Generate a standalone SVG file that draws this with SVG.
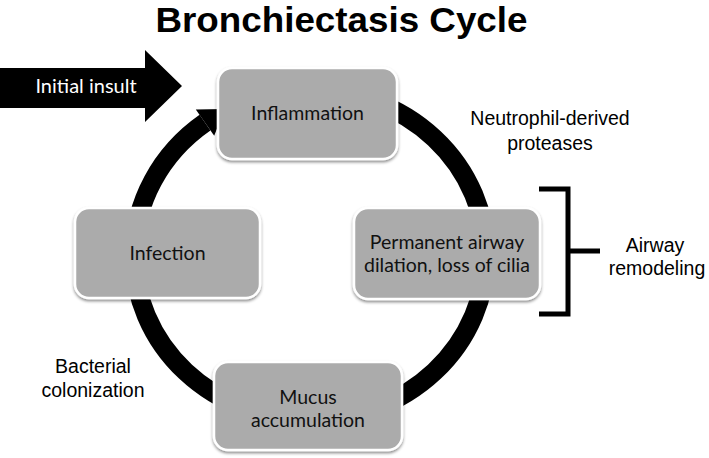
<svg xmlns="http://www.w3.org/2000/svg" width="709" height="458" viewBox="0 0 709 458">
<defs>
<style>
.box{fill:#ababab;stroke:#ffffff;stroke-width:2.5;filter:url(#sh)}
.bt{font-family:Lato,"Open Sans","DejaVu Sans",sans-serif;font-size:19.5px;fill:#111;text-anchor:middle}
.lb{font-family:"Liberation Sans",Arial,sans-serif;font-size:19.5px;fill:#000;text-anchor:middle}
.ring{fill:none;stroke:#000;stroke-width:19}
</style>
<filter id="sh" x="-10%" y="-10%" width="120%" height="130%">
<feDropShadow dx="0" dy="2" stdDeviation="1.8" flood-color="#000" flood-opacity="0.45"/>
</filter>
</defs>
<rect width="709" height="458" fill="#ffffff"/>
<text x="341.5" y="32" font-family="'Liberation Sans',Arial,sans-serif" font-weight="bold" font-size="35" text-anchor="middle" textLength="372" lengthAdjust="spacingAndGlyphs">Bronchiectasis Cycle</text>
<g id="connectors">
<path class="ring" d="M310 90 A176 165 0 0 1 486 255 A176 165 0 0 1 310 420 A176 165 0 0 1 134 255 A176 165 0 0 1 205 122.6"/>
<polygon points="195.8,109.5 224.7,108.9 214.2,135.7" fill="#000"/>
<path d="M539 189 H568 V314 H539 M568 251 H600" fill="none" stroke="#000" stroke-width="5"/>
</g>
<g id="initial-insult">
<polygon points="0,68 145,68 145,50 182,86 145,122 145,108 0,108" fill="#000"/>
<text class="bt" x="86" y="93" style="fill:#fff;font-size:20px">Initial insult</text>
</g>
<g id="inflammation">
<rect class="box" x="218" y="68" width="179" height="91" rx="14"/>
<text class="bt" x="307.5" y="120">Inflammation</text>
</g>
<g id="infection">
<rect class="box" x="75" y="208" width="185" height="90" rx="14"/>
<text class="bt" x="167.5" y="260">Infection</text>
</g>
<g id="permanent">
<rect class="box" x="354" y="208" width="186" height="91" rx="14"/>
<text class="bt" x="447" y="249">Permanent airway</text>
<text class="bt" x="447" y="272">dilation, loss of cilia</text>
</g>
<g id="mucus">
<rect class="box" x="214" y="362" width="188" height="88" rx="14"/>
<text class="bt" x="308" y="404">Mucus</text>
<text class="bt" x="308" y="427">accumulation</text>
</g>
<g id="labels">
<text class="lb" x="550" y="125">Neutrophil-derived</text>
<text class="lb" x="550" y="150">proteases</text>
<text class="lb" x="655" y="252">Airway</text>
<text class="lb" x="657" y="275">remodeling</text>
<text class="lb" x="93" y="373">Bacterial</text>
<text class="lb" x="93" y="397">colonization</text>
</g>
</svg>
